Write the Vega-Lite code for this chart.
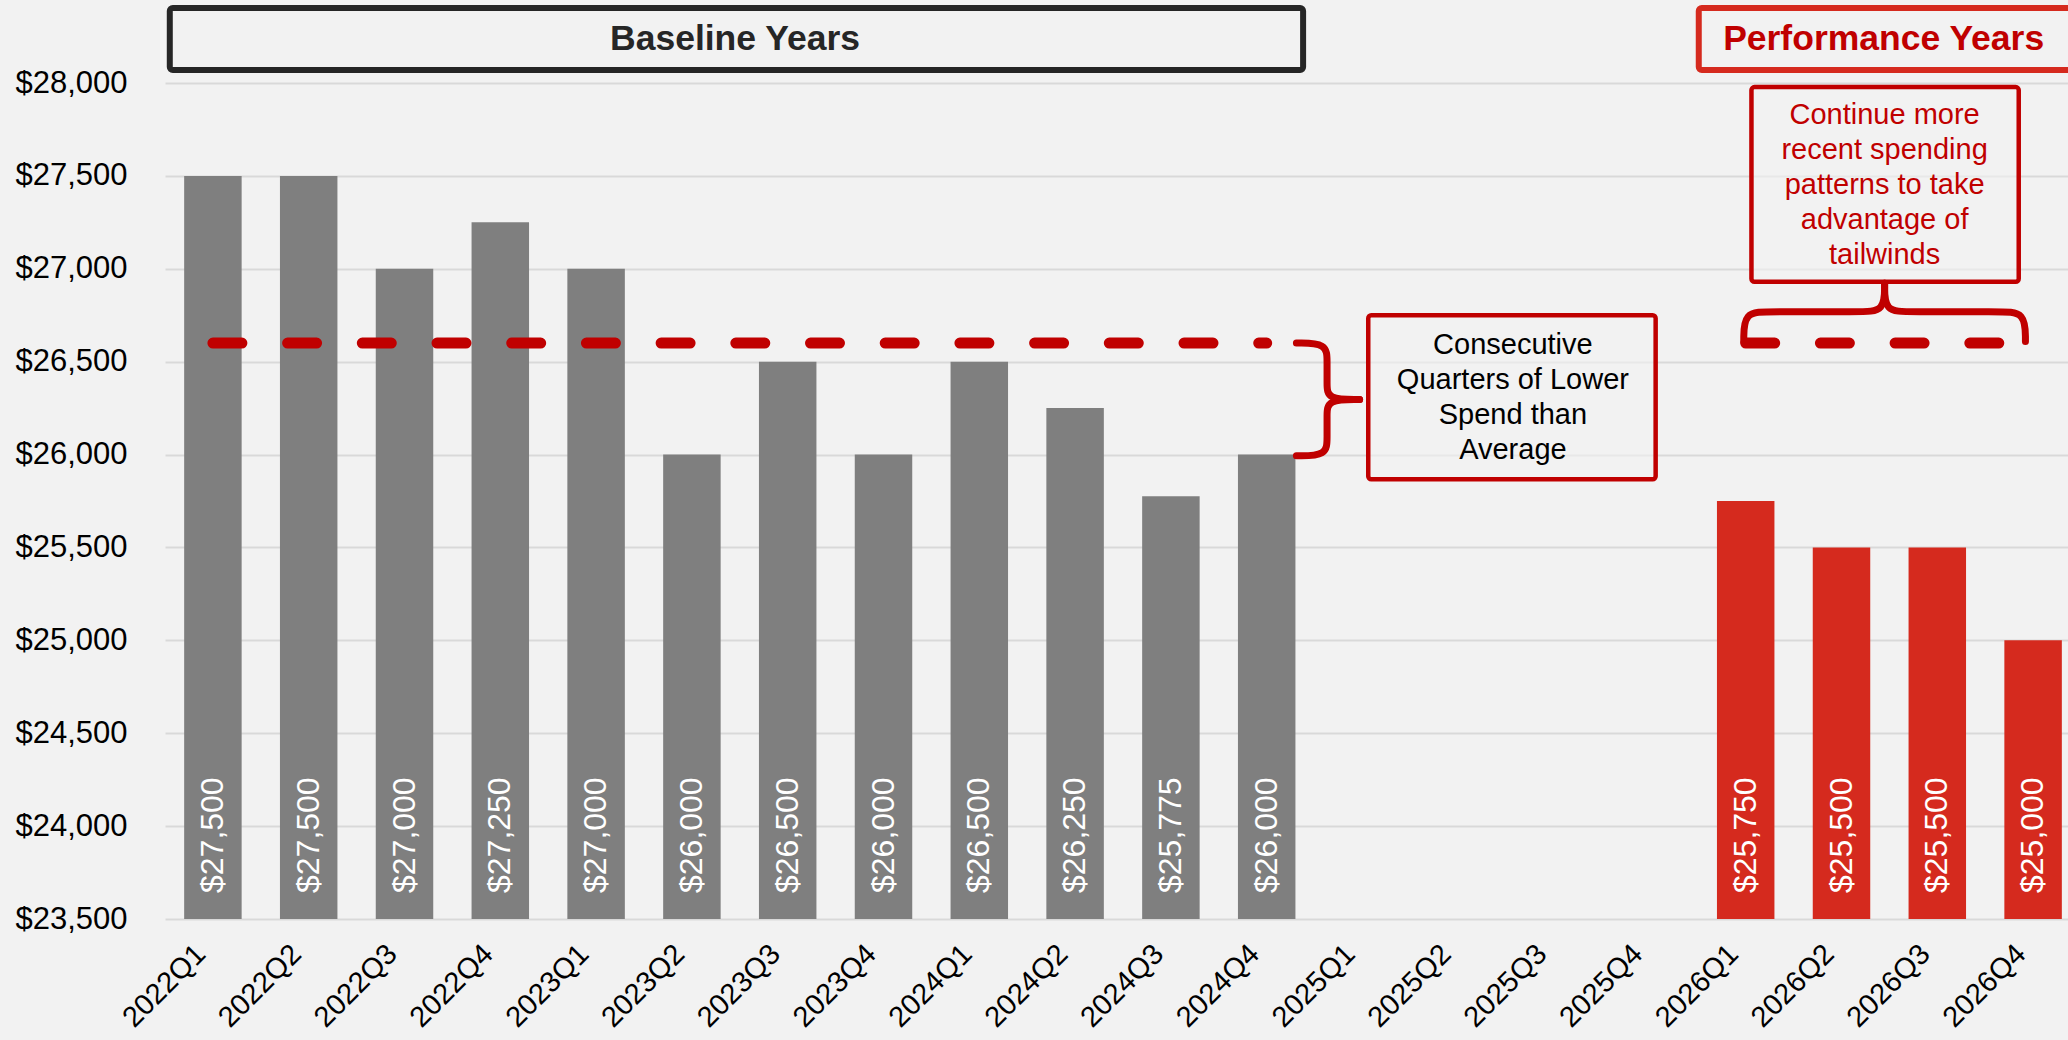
{
  "$schema": "https://vega.github.io/schema/vega-lite/v6.json",
  "autosize": "none",
  "width": 1903,
  "height": 836,
  "padding": {"left": 165, "top": 83, "right": 0, "bottom": 121},
  "background": "#f2f2f2",
  "config": {"view": {"stroke": null}, "font": "Liberation Sans"},
  "datasets": {
    "bars": [
      {"q": "2022Q1", "value": 27500, "phase": "Baseline"},
      {"q": "2022Q2", "value": 27500, "phase": "Baseline"},
      {"q": "2022Q3", "value": 27000, "phase": "Baseline"},
      {"q": "2022Q4", "value": 27250, "phase": "Baseline"},
      {"q": "2023Q1", "value": 27000, "phase": "Baseline"},
      {"q": "2023Q2", "value": 26000, "phase": "Baseline"},
      {"q": "2023Q3", "value": 26500, "phase": "Baseline"},
      {"q": "2023Q4", "value": 26000, "phase": "Baseline"},
      {"q": "2024Q1", "value": 26500, "phase": "Baseline"},
      {"q": "2024Q2", "value": 26250, "phase": "Baseline"},
      {"q": "2024Q3", "value": 25775, "phase": "Baseline"},
      {"q": "2024Q4", "value": 26000, "phase": "Baseline"},
      {"q": "2026Q1", "value": 25750, "phase": "Performance"},
      {"q": "2026Q2", "value": 25500, "phase": "Performance"},
      {"q": "2026Q3", "value": 25500, "phase": "Performance"},
      {"q": "2026Q4", "value": 25000, "phase": "Performance"}
    ],
    "avg": [
      {"seg": "baseline", "xu": 0.5, "v": 26600},
      {"seg": "baseline", "xu": 11.5, "v": 26600},
      {"seg": "performance", "xu": 16.5, "v": 26600},
      {"seg": "performance", "xu": 19.5, "v": 26600}
    ],
    "braces": [
      {"g": "r1", "o": 1, "xu": 11.81, "v": 26600},
      {"g": "r1", "o": 2, "xu": 12.13, "v": 26600},
      {"g": "r1", "o": 3, "xu": 12.13, "v": 26500},
      {"g": "r1", "o": 4, "xu": 12.13, "v": 26380},
      {"g": "r1", "o": 5, "xu": 12.13, "v": 26296},
      {"g": "r1", "o": 6, "xu": 12.47, "v": 26296},
      {"g": "r2", "o": 1, "xu": 12.47, "v": 26296},
      {"g": "r2", "o": 2, "xu": 12.13, "v": 26296},
      {"g": "r2", "o": 3, "xu": 12.13, "v": 26212},
      {"g": "r2", "o": 4, "xu": 12.13, "v": 26092},
      {"g": "r2", "o": 5, "xu": 12.13, "v": 25993},
      {"g": "r2", "o": 6, "xu": 11.81, "v": 25993},
      {"g": "t1", "o": 1, "xu": 16.48, "v": 26608},
      {"g": "t1", "o": 2, "xu": 16.48, "v": 26769},
      {"g": "t1", "o": 3, "xu": 16.75, "v": 26769},
      {"g": "t1", "o": 4, "xu": 17.7, "v": 26769},
      {"g": "t1", "o": 5, "xu": 17.95, "v": 26769},
      {"g": "t1", "o": 6, "xu": 17.95, "v": 26922},
      {"g": "t2", "o": 1, "xu": 17.95, "v": 26922},
      {"g": "t2", "o": 2, "xu": 17.95, "v": 26769},
      {"g": "t2", "o": 3, "xu": 18.2, "v": 26769},
      {"g": "t2", "o": 4, "xu": 19.15, "v": 26769},
      {"g": "t2", "o": 5, "xu": 19.42, "v": 26769},
      {"g": "t2", "o": 6, "xu": 19.42, "v": 26608}
    ],
    "boxes": [
      {"name": "baseline", "x1": 0.05, "x2": 11.88, "v1": 28404, "v2": 28070, "col": "#262626", "w": 6},
      {"name": "performance", "x1": 16.01, "x2": 20.6, "v1": 28404, "v2": 28070, "col": "#D52A1E", "w": 6},
      {"name": "continue", "x1": 16.56, "x2": 19.35, "v1": 27978, "v2": 26930, "col": "#C00000", "w": 4.5},
      {"name": "consecutive", "x1": 12.56, "x2": 15.56, "v1": 26750, "v2": 25867, "col": "#C00000", "w": 4.5}
    ],
    "titles": [
      {"label": "Baseline Years", "xu": 5.95, "v": 28237, "col": "#262626"},
      {"label": "Performance Years", "xu": 17.94, "v": 28237, "col": "#C00000"}
    ],
    "notes": [
      {"lines": ["Continue more", "recent spending", "patterns to take", "advantage of", "tailwinds"], "xu": 17.95, "v": 27829, "col": "#C00000"},
      {"lines": ["Consecutive", "Quarters of Lower", "Spend than", "Average"], "xu": 14.07, "v": 26590, "col": "#000000"}
    ]
  },
  "layer": [
    {
      "data": {"name": "bars"},
      "layer": [
        {
          "mark": {"type": "bar"},
          "encoding": {
            "x": {
              "field": "q", "type": "nominal", "sort": null,
              "scale": {
                "domain": ["2022Q1","2022Q2","2022Q3","2022Q4","2023Q1","2023Q2","2023Q3","2023Q4","2024Q1","2024Q2","2024Q3","2024Q4","2025Q1","2025Q2","2025Q3","2025Q4","2026Q1","2026Q2","2026Q3","2026Q4"],
                "range": [0, 1916],
                "paddingInner": 0.4, "paddingOuter": 0.2
              },
              "axis": {
                "title": null, "labelAngle": -45, "labelAlign": "right", "labelBaseline": "top",
                "labelFontSize": 29, "labelColor": "#000000", "labelPadding": 20, "labelOffset": -22,
                "ticks": false, "domain": false, "grid": false, "labelOverlap": false
              }
            },
            "y": {
              "field": "value", "type": "quantitative",
              "scale": {"domain": [23500, 28000], "zero": false, "nice": false},
              "axis": {
                "title": null, "values": [23500, 24000, 24500, 25000, 25500, 26000, 26500, 27000, 27500, 28000],
                "format": "$,.0f", "labelFontSize": 31, "labelColor": "#000000", "labelPadding": 38,
                "ticks": false, "domain": false, "grid": true, "gridColor": "#d9d9d9", "gridWidth": 2
              }
            },
            "y2": {"datum": 23500},
            "color": {
              "field": "phase", "type": "nominal",
              "scale": {"domain": ["Baseline", "Performance"], "range": ["#7F7F7F", "#D52A1E"]},
              "legend": null
            }
          }
        },
        {
          "mark": {"type": "text", "angle": 270, "align": "left", "baseline": "middle", "dx": 26, "fontSize": 32, "color": "#ffffff"},
          "encoding": {
            "x": {"field": "q", "type": "nominal", "sort": null},
            "y": {"datum": 23500},
            "text": {"field": "value", "type": "quantitative", "format": "$,.0f"}
          }
        }
      ]
    },
    {
      "layer": [
        {
          "data": {"name": "boxes"},
          "mark": {"type": "rect", "fill": "#f2f2f2", "fillOpacity": 0.6, "cornerRadius": 3, "clip": false},
          "encoding": {
            "x": {"field": "x1", "type": "quantitative", "scale": {"domain": [0, 20], "range": [0, 1916], "nice": false, "zero": false}, "axis": null},
            "x2": {"field": "x2"},
            "y": {"field": "v1", "type": "quantitative", "title": null},
            "y2": {"field": "v2"},
            "stroke": {"field": "col", "type": "nominal", "scale": null},
            "strokeWidth": {"field": "w", "type": "quantitative", "scale": null}
          }
        },
        {
          "data": {"name": "avg"},
          "mark": {"type": "line", "color": "#C00000", "strokeWidth": 11, "strokeDash": [29, 45.7], "strokeCap": "round"},
          "encoding": {
            "x": {"field": "xu", "type": "quantitative", "scale": {"domain": [0, 20], "range": [0, 1916], "nice": false, "zero": false}, "axis": null},
            "y": {"field": "v", "type": "quantitative", "title": null},
            "detail": {"field": "seg", "type": "nominal"}
          }
        },
        {
          "data": {"name": "braces"},
          "mark": {"type": "line", "color": "#C00000", "strokeWidth": 7, "interpolate": "basis", "strokeCap": "round"},
          "encoding": {
            "x": {"field": "xu", "type": "quantitative", "scale": {"domain": [0, 20], "range": [0, 1916], "nice": false, "zero": false}, "axis": null},
            "y": {"field": "v", "type": "quantitative", "title": null},
            "detail": {"field": "g", "type": "nominal"},
            "order": {"field": "o", "type": "quantitative"}
          }
        },
        {
          "data": {"name": "titles"},
          "mark": {"type": "text", "fontSize": 35.5, "fontWeight": "bold", "align": "center", "baseline": "middle"},
          "encoding": {
            "x": {"field": "xu", "type": "quantitative", "scale": {"domain": [0, 20], "range": [0, 1916], "nice": false, "zero": false}, "axis": null},
            "y": {"field": "v", "type": "quantitative", "title": null},
            "text": {"field": "label"},
            "color": {"field": "col", "type": "nominal", "scale": null}
          }
        },
        {
          "data": {"name": "notes"},
          "mark": {"type": "text", "fontSize": 29, "lineHeight": 35, "align": "center", "baseline": "middle"},
          "encoding": {
            "x": {"field": "xu", "type": "quantitative", "scale": {"domain": [0, 20], "range": [0, 1916], "nice": false, "zero": false}, "axis": null},
            "y": {"field": "v", "type": "quantitative", "title": null},
            "text": {"field": "lines"},
            "color": {"field": "col", "type": "nominal", "scale": null}
          }
        }
      ]
    }
  ],
  "resolve": {"scale": {"x": "independent"}, "axis": {"x": "independent"}}
}
